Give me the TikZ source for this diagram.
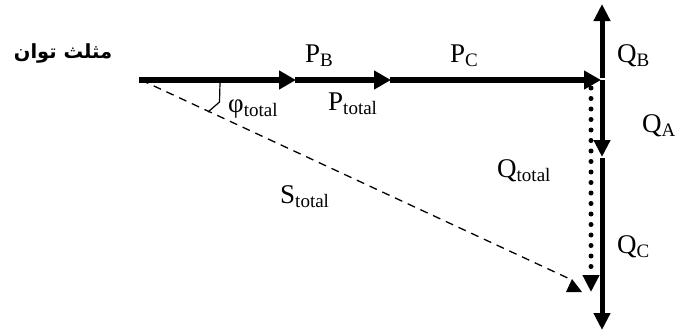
\documentclass[tikz,border=0pt]{standalone}
\usepackage{fontspec}
\setmainfont{Liberation Serif}
\newfontfamily\arabicfont[Script=Arabic]{DejaVu Sans}
\usetikzlibrary{arrows.meta}
\TeXXeTstate=1
\newcommand\lowsub[1]{\raisebox{-4.5pt}{\fontsize{19}{19}\selectfont #1}}
\tikzset{
  lbl/.style={anchor=base west, inner sep=0pt, font=\fontsize{27}{27}\selectfont},
  thickarrow/.style={line width=5.5pt, -{Triangle[length=17pt,width=18pt]}},
  qarrow/.style={line width=5pt, -{Triangle[length=17pt,width=16pt]}},
  dotline/.style={line width=5pt, line cap=round, dash pattern=on 0pt off 10.5pt, -{Triangle[length=17pt,width=16pt]}},
  dashline/.style={line width=1.3pt, dash pattern=on 8pt off 6pt},
}
\begin{document}
\begin{tikzpicture}[x=1pt,y=-1pt]
\useasboundingbox (0,0) rectangle (679,332);
% points
\coordinate (O) at (141,80);
\coordinate (B1) at (296,80);
\coordinate (B2) at (391,80);
\coordinate (C) at (602,80);
\coordinate (V) at (602,80);
\coordinate (Top) at (602,4);
\coordinate (QAt) at (602,157);
\coordinate (QCs) at (602,158);
\coordinate (QCt) at (602,330);
\coordinate (D1) at (591,88);
\coordinate (D2) at (591,292);
\coordinate (S) at (572,280);
% dashed hypotenuse
\draw[dashline] (O) -- (S);
\fill (566,292) -- (572,279) -- (582,292) -- cycle;
% angle mark
\draw[line width=1.2pt] (220,83) -- (219.5,102) -- (208,112);
% P arrows
\draw[thickarrow] ([xshift=-2pt]O) -- (B1);
\draw[thickarrow] ([xshift=-1pt]B1) -- (B2);
\draw[thickarrow] ([xshift=-1pt]B2) -- ([xshift=-1pt]C);
% Q arrows
\draw[qarrow] ([yshift=2.5pt]V) -- (Top);
\draw[qarrow] (V) -- (QAt);
\draw[qarrow] (QCs) -- (QCt);
% dotted Q total
\draw[dotline] (D1) -- (D2);
% labels
\node[inner sep=0pt, font=\fontsize{19.5}{19.5}\selectfont\bfseries\arabicfont] (title) at (63,53) {\beginR مثلث توان\endR};
\node[lbl] (pb) at (305,62) {P\lowsub{B}};
\node[lbl] (pc) at (450,62) {P\lowsub{C}};
\node[lbl] (ptot) at (328,110) {P\lowsub{total}};
\node[lbl] (phi) at (228,112) {φ\lowsub{total}};
\node[lbl] (qb) at (617,62) {Q\lowsub{B}};
\node[lbl] (qa) at (642,132) {Q\lowsub{A}};
\node[lbl] (qtot) at (497,177) {Q\lowsub{total}};
\node[lbl] (qc) at (617,253) {Q\lowsub{C}};
\node[lbl] (stot) at (280,203) {S\lowsub{total}};
\end{tikzpicture}
\end{document}
